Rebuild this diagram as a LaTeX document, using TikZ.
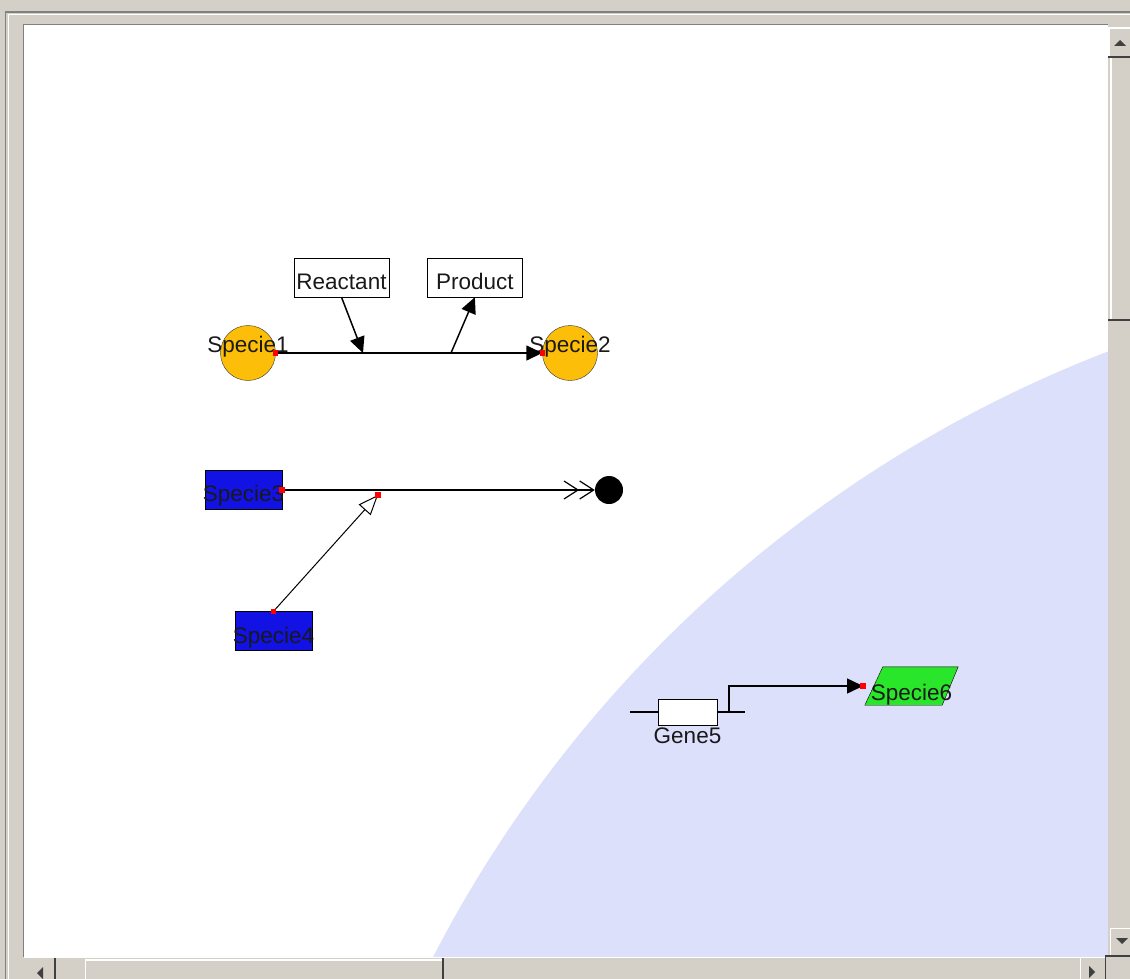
\documentclass[tikz,border=0pt]{standalone}
\usepackage{fontspec}
\setmainfont{Liberation Sans}
\definecolor{winGray}{HTML}{D4D0C8}
\definecolor{winDark}{HTML}{808080}
\definecolor{winArrow}{HTML}{404040}
\definecolor{cellBlue}{HTML}{DDE0FA}
\definecolor{speciesGold}{HTML}{FCBE08}
\definecolor{speciesBlue}{HTML}{1212E4}
\definecolor{speciesGreen}{HTML}{2AE62A}
\usetikzlibrary{shapes.geometric,arrows.meta,positioning}

\begin{document}
\begin{tikzpicture}[
    x=1pt, y=-1pt,
    every node/.style={font=\fontsize{22.5}{26}\selectfont, text=black!90},
    lbl/.style={inner sep=0pt, anchor=base},
    simple/.style={circle, draw=black!80, fill=speciesGold, minimum size=55pt, inner sep=0pt},
    protein/.style={rectangle, draw=black, fill=speciesBlue, minimum width=77pt, minimum height=39pt, inner sep=0pt},
    textbox/.style={rectangle, draw=black, fill=white, minimum width=95pt, minimum height=39pt, inner sep=0pt, text height=25pt, text depth=2pt},
    gene/.style={rectangle, draw=black, fill=white, minimum width=59pt, minimum height=26pt, inner sep=0pt},
    rnabox/.style={rectangle, minimum width=93pt, minimum height=38pt, inner sep=0pt},
    sink/.style={circle, fill=black, minimum size=28pt, inner sep=0pt},
    port/.style={rectangle, fill=red, inner sep=0pt, minimum size=5.5pt},
    arrow/.style={-{Triangle[length=16pt, width=15pt]}, black, line width=1.5pt},
    barbs/.style={-{Straight Barb[length=14pt, width=18pt] Straight Barb[length=14pt, width=18pt]}, black, line width=1.2pt},
    modifier/.style={-{Triangle[open, fill=white, length=20pt, width=16pt]}, black, line width=1pt}
    ]
    \useasboundingbox (0,0) rectangle (1130,979);
    % window frame
    \fill[winGray] (0,0) rectangle (1130,979);
    \draw[winDark, line width=1.5pt] (5.5,979) -- (5.5,12) -- (1130,12);
    \draw[white, line width=1.5pt] (8.5,979) -- (8.5,14.5) -- (1130,14.5);
    \fill[white] (24,25) rectangle (1108,957);
    \draw[winDark] (23,957) -- (23,24) -- (1108,24);
    \begin{scope}
      \clip (24,25) rectangle (1108,957);
      \fill[cellBlue] (1565,1540) circle[radius=1273];
    \end{scope}

    % first reaction
    \node[simple] (specie1) at (248,353) {};
    \node[lbl] (specie1-name) at ([yshift=1pt]specie1.center) {Specie1};
    \node[simple] (specie2) at (570,353) {};
    \node[lbl] (specie2-name) at ([yshift=1pt]specie2.center) {Specie2};
    \node[textbox] (reactant) at (341.5,277.5) {Reactant};
    \node[textbox, right=38pt of reactant] (product) {Product};
    \coordinate (rxn-in) at (363,353);
    \coordinate (rxn-out) at (451,353);
    \draw[arrow] (specie1.east) -- (specie2.west);
    \draw[arrow] (reactant.south) -- (rxn-in);
    \draw[arrow] (rxn-out) -- (product.south);

    % degradation
    \node[protein] (specie3) at (243.5,490) {};
    \node[lbl] (specie3-name) at ([yshift=-11.5pt]specie3.center) {Specie3};
    \node[sink] (degraded) at (609,490) {};
    \coordinate (mod-site) at (378,495);
    \node[protein] (specie4) at (273.5,631) {};
    \node[lbl] (specie4-name) at ([yshift=-12pt]specie4.center) {Specie4};
    \draw[barbs] (specie3.east) -- (degraded.west);
    \draw[modifier] (specie4.north) -- (mod-site);

    % transcription
    \coordinate (gene5-left) at (630,712);
    \coordinate (gene5-right) at (745,712);
    \coordinate (gene5-out) at (729,712);
    \draw[black, line width=1.5pt] (gene5-left) -- (gene5-right);
    \node[gene] (gene5) at (687.5,712) {};
    \node[lbl] (gene5-name) at ([yshift=-31pt]gene5.center) {Gene5};
    \node[rnabox] (specie6) at (911.5,686) {};
    \draw[fill=speciesGreen] (specie6.south west) -- ([xshift=-16pt]specie6.south east)
      -- (specie6.north east) -- ([xshift=18pt]specie6.north west) -- cycle;
    \node[lbl] (specie6-name) at ([yshift=-14pt]specie6.center) {Specie6};
    \coordinate (specie6-port) at (863,686);
    \draw[arrow] (gene5-out) |- (specie6-port);

    % connection points
    \foreach \p in {specie1.east, specie2.west, specie3.east, specie4.north, mod-site, specie6-port}
      \node[port] at (\p) {};

    % vertical scrollbar
    \fill[winGray] (1108,25) rectangle (1130,957);
    \draw[white, line width=1.5pt] (1109,57) -- (1109,28) -- (1130,28);
    \draw[winArrow, line width=1.5pt] (1108,57) -- (1130,57);
    \fill[winArrow] (1114,46) -- (1126,46) -- (1120,40) -- cycle;
    \draw[white, line width=1.5pt] (1111,320) -- (1111,58);
    \draw[winArrow, line width=1.5pt] (1108,320) -- (1130,320);
    \draw[white, line width=1.5pt] (1110.5,957) -- (1110.5,928.5) -- (1130,928.5);
    \fill[winArrow] (1116,938) -- (1128,938) -- (1122,944) -- cycle;

    % horizontal scrollbar
    \fill[winGray] (24,957) rectangle (1108,979);
    \draw[white, line width=1.5pt] (24,957.5) -- (1105,957.5);
    \draw[winArrow, line width=1.5pt] (55,958) -- (55,979);
    \fill[winArrow] (43,967) -- (43,979) -- (37,973) -- cycle;
    \draw[white, line width=1.5pt] (85.5,979) -- (85.5,960) -- (443,960);
    \draw[winArrow, line width=1.5pt] (443,958) -- (443,979);
    \draw[white, line width=1.5pt] (1080.5,979) -- (1080.5,958);
    \fill[winArrow] (1089,966) -- (1089,978) -- (1095,972) -- cycle;
    \fill[winGray] (1105,955) rectangle (1130,979);
    \draw[winArrow, line width=1.5pt] (1105.5,979) -- (1105.5,956) -- (1130,956);
  \end{tikzpicture}
\end{document}
